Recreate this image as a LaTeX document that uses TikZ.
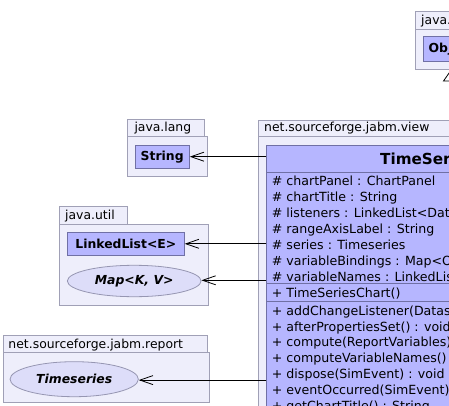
\documentclass[tikz,border=0pt]{standalone}
\usepackage{fontspec}
\setmainfont{DejaVu Sans}
\usetikzlibrary{arrows.meta,shapes.geometric}
\definecolor{pkgfill}{RGB}{238,238,251}
\definecolor{pkgline}{RGB}{160,160,182}
\definecolor{clsfill}{RGB}{182,182,255}
\definecolor{clsline}{RGB}{112,112,165}
\definecolor{ellfill}{RGB}{221,221,249}
\definecolor{ellline}{RGB}{150,150,178}
\tikzset{
  pkg/.style={draw=pkgline, fill=pkgfill, line width=0.8pt},
  pkglabel/.style={anchor=base west, inner sep=0pt, font=\fontsize{12.4}{14}\selectfont},
  clsbox/.style={rectangle, draw=clsline, fill=clsfill, line width=0.8pt, inner sep=0pt, font=\bfseries\fontsize{12.4}{14}\selectfont},
  ifcbox/.style={ellipse, draw=ellline, fill=ellfill, line width=0.8pt, inner sep=0pt, font=\bfseries\itshape\fontsize{12.4}{14}\selectfont},
  rowtext/.style={anchor=base west, inner sep=0pt, font=\fontsize{12.6}{14}\selectfont},
  dep/.style={-{Straight Barb[length=13pt,width=9pt,line width=0.8pt]}, line width=0.8pt},
  sepline/.style={draw=clsline, line width=0.8pt},
}
\begin{document}
\begin{tikzpicture}[x=1pt,y=-1pt]
\useasboundingbox (0,0) rectangle (449,406);
\clip (0,0) rectangle (449,406);
\fill[white] (0,0) rectangle (449,406);

% top-right package java.lang (Object)
\draw[pkg] (415.3,11.7) rectangle (520,29.3);
\draw[pkg] (415.3,29.3) rectangle (520,69.3);
\node[pkglabel] (lbltop) at (421,24.3) {java.lang};
\node[clsbox, minimum width=56pt, minimum height=25pt] (object) at (451.3,49.2) {Object};
\draw[line width=0.8pt, fill=white] (450.5,71) -- (443.5,81) -- (457.5,81) -- cycle;

% java.lang
\draw[pkg] (127.3,119.3) rectangle (204.3,136);
\draw[pkg] (127.3,136) rectangle (207.3,176);
\node[pkglabel] (lbllang) at (134.3,131.8) {java.lang};
\node[clsbox, minimum width=54.3pt, minimum height=23.3pt] (string) at (162.2,156.7) {String};

% java.util
\draw[pkg] (59.3,206) rectangle (127.3,224.3);
\draw[pkg] (59.3,224.3) rectangle (208.3,305);
\node[pkglabel] (lblutil) at (65,219) {java.util};
\node[clsbox, minimum width=117pt, minimum height=23pt] (linkedlist) at (125.8,243.8) {LinkedList<E>};
\node[ifcbox, minimum width=133.7pt, minimum height=31.4pt] (map) at (134.2,281) {Map<K, V>};

% report
\draw[pkg] (3.3,335.7) rectangle (207.3,352.7);
\draw[pkg] (3.3,352.7) rectangle (209,402.7);
\node[pkglabel] (lblreport) at (8.3,348) {net.sourceforge.jabm.report};
\node[ifcbox, minimum width=128.3pt, minimum height=35pt] (timeseries) at (74.2,379.2) {Timeseries};

% view
\draw[pkg] (258.3,120) rectangle (700,136);
\draw[pkg] (258.3,136) rectangle (700,700);
\node[pkglabel] (lblview) at (264,131.8) {net.sourceforge.jabm.view};
\node[clsbox, minimum width=373.3pt, minimum height=454.3pt] (cls) at (453.35,372.85) {};
\node[anchor=base west, inner sep=0pt, font=\bfseries\fontsize{15.2}{18}\selectfont] (clsname) at (380,164.3) {TimeSeriesChart};
\coordinate (s1) at (0,172);
\coordinate (s2) at (0,283.5);
\coordinate (s3) at (0,301.5);
\draw[sepline] (cls.west |- s1) -- (cls.east |- s1);
\draw[sepline] (cls.west |- s2) -- (cls.east |- s2);
\draw[sepline] (cls.west |- s3) -- (cls.east |- s3);

\node[rowtext] (a1) at (271.7,185.1) {\#~chartPanel : ChartPanel};
\node[rowtext] (a2) at (271.7,201.1) {\#~chartTitle : String};
\node[rowtext] (a3) at (271.7,217.1) {\#~listeners : LinkedList<DatasetChangeListener>};
\node[rowtext] (a4) at (271.7,233.1) {\#~rangeAxisLabel : String};
\node[rowtext] (a5) at (271.7,249.1) {\#~series : Timeseries};
\node[rowtext] (a6) at (271.7,265.1) {\#~variableBindings : Map<Object, String>};
\node[rowtext] (a7) at (271.7,281.1) {\#~variableNames : LinkedList<Object>};
\node[rowtext] (c1) at (271.7,297.7) {+~TimeSeriesChart()};
\node[rowtext] (m1) at (271.7,315.1) {+~addChangeListener(DatasetChangeListener) : void};
\node[rowtext] (m2) at (271.7,331.0) {+~afterPropertiesSet() : void};
\node[rowtext] (m3) at (271.7,346.9) {+~compute(ReportVariables) : void};
\node[rowtext] (m4) at (271.7,362.8) {+~computeVariableNames() : void};
\node[rowtext] (m5) at (271.7,378.7) {+~dispose(SimEvent) : void};
\node[rowtext] (m6) at (271.7,394.6) {+~eventOccurred(SimEvent) : void};
\node[rowtext] (m7) at (271.7,410.5) {+~getChartTitle() : String};

% dependencies
\draw[dep] (string.east -| cls.west) -- (string.east);
\draw[dep] (linkedlist.east -| cls.west) -- (linkedlist.east);
\draw[dep] ([yshift=0.7pt]map.east -| cls.west) -- ([yshift=0.7pt]map.east);
\draw[dep] ([yshift=-0.9pt]timeseries.east -| cls.west) -- ([yshift=-0.9pt]timeseries.east);
\end{tikzpicture}
\end{document}
